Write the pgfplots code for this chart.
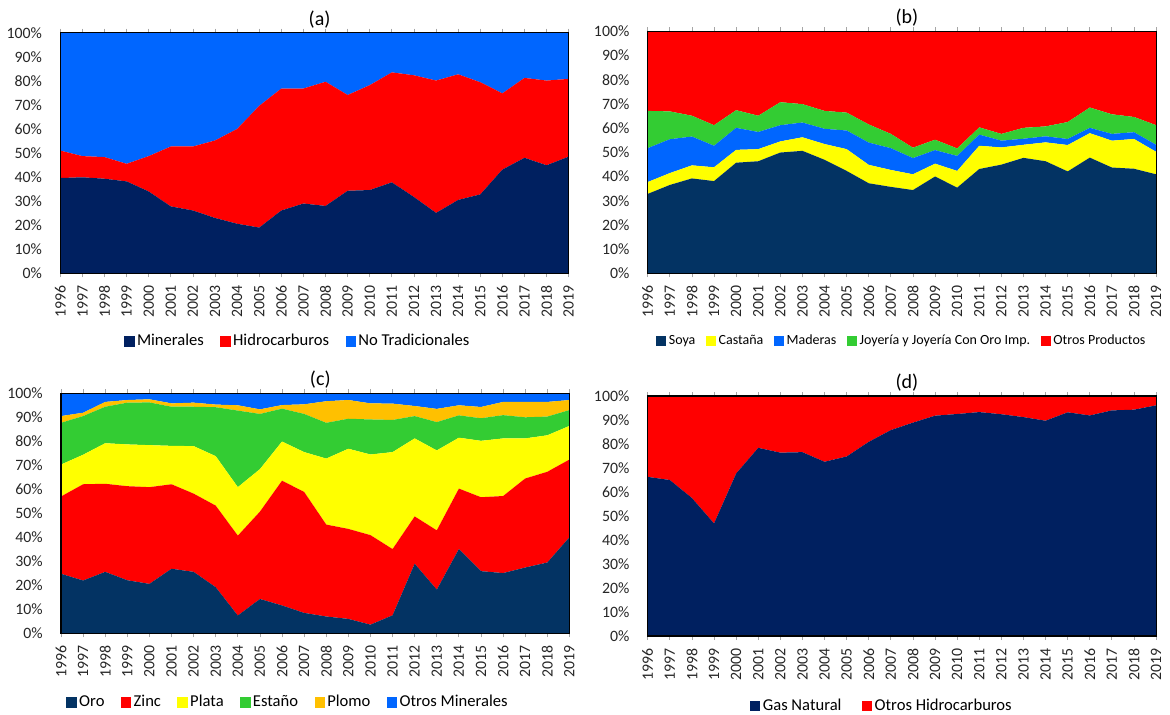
\documentclass[border=0pt]{standalone}
\usepackage{pgfplots}
\pgfplotsset{compat=1.18}
\usepackage{pgfplotstable}
\usepackage{fontspec}
\setmainfont{Carlito}

\definecolor{navyA}{HTML}{002060}
\definecolor{navyB}{HTML}{033363}
\definecolor{cRed}{HTML}{FF0000}
\definecolor{cBlue}{HTML}{0066FF}
\definecolor{cYel}{HTML}{FFFF00}
\definecolor{cGreen}{HTML}{33CC33}
\definecolor{cOrange}{HTML}{FFC000}

\pgfplotstableread{
year min hid not
1996 39.6 11.4 49.0
1997 39.9 8.8 51.3
1998 39.3 9.0 51.7
1999 38.2 7.3 54.5
2000 34.0 14.7 51.3
2001 27.8 24.9 47.3
2002 26.1 26.6 47.3
2003 23.0 32.2 44.8
2004 20.6 39.4 40.0
2005 19.0 50.6 30.4
2006 26.1 50.7 23.2
2007 29.0 47.8 23.2
2008 28.0 51.6 20.4
2009 34.3 39.8 25.9
2010 34.6 43.6 21.8
2011 37.8 45.7 16.5
2012 31.7 50.6 17.7
2013 25.1 55.0 19.9
2014 30.5 52.2 17.3
2015 32.8 46.6 20.6
2016 43.1 31.7 25.2
2017 48.0 33.2 18.8
2018 44.9 35.2 19.9
2019 48.5 32.3 19.2
}\tabA

\pgfplotstableread{
year soya cast mad joy otr
1996 32.8 4.9 14.0 15.4 32.9
1997 36.5 4.9 14.0 11.5 33.1
1998 39.2 5.4 11.9 8.6 34.9
1999 38.1 5.7 8.9 8.5 38.8
2000 45.7 5.3 9.1 7.3 32.6
2001 46.3 5.0 7.1 6.7 34.9
2002 49.9 4.6 6.7 9.5 29.3
2003 50.6 5.6 6.1 7.6 30.1
2004 46.9 6.5 6.3 7.4 32.9
2005 42.3 9.0 7.7 7.4 33.6
2006 37.2 7.6 9.2 7.5 38.5
2007 35.7 7.0 9.0 5.9 42.4
2008 34.4 6.5 6.7 4.3 48.1
2009 40.0 5.3 5.6 4.3 44.8
2010 35.4 6.9 6.2 3.1 48.4
2011 43.1 9.6 4.6 3.0 39.7
2012 44.9 7.1 2.8 2.8 42.4
2013 47.7 5.4 2.5 4.5 39.9
2014 46.3 7.8 2.5 4.1 39.3
2015 42.1 10.9 2.5 7.0 37.5
2016 47.8 10.1 2.2 8.4 31.5
2017 43.7 11.1 2.8 8.1 34.3
2018 43.2 12.3 2.8 6.3 35.4
2019 40.9 9.3 2.9 8.1 38.8
}\tabB

\pgfplotstableread{
year oro zinc plata est plomo otros
1996 24.8 32.2 13.3 17.4 2.8 9.5
1997 22.0 40.1 12.3 16.1 1.4 8.1
1998 25.6 36.7 16.9 15.2 2.0 3.6
1999 22.1 39.2 17.4 17.4 1.1 2.8
2000 20.6 40.3 17.5 17.8 1.3 2.5
2001 26.9 35.2 16.0 16.3 1.4 4.2
2002 25.6 32.6 19.8 16.4 1.7 3.9
2003 19.2 34.0 20.6 20.4 1.1 4.7
2004 7.4 33.3 20.2 31.9 2.2 5.0
2005 14.3 36.4 17.7 23.0 1.9 6.7
2006 11.6 52.0 16.3 13.7 1.5 4.9
2007 8.5 50.4 16.6 15.9 4.0 4.6
2008 7.0 38.3 27.5 14.9 9.0 3.3
2009 6.0 37.5 33.4 12.5 7.8 2.8
2010 3.6 37.3 33.6 14.6 6.7 4.2
2011 7.5 27.6 40.4 13.4 6.8 4.3
2012 29.0 19.7 32.5 9.3 4.2 5.3
2013 18.2 24.7 33.3 11.8 5.5 6.5
2014 35.1 25.2 21.2 9.3 4.2 5.0
2015 25.9 30.8 23.5 9.4 4.7 5.7
2016 25.1 32.1 24.0 9.7 5.5 3.6
2017 27.4 37.1 16.7 8.8 6.4 3.6
2018 29.5 37.8 15.2 7.8 6.1 3.6
2019 40.0 32.4 14.0 6.6 4.2 2.8
}\tabC

\pgfplotstableread{
year gas otros
1996 66.3 33.7
1997 65.0 35.0
1998 57.5 42.5
1999 46.9 53.1
2000 67.7 32.3
2001 78.4 21.6
2002 76.4 23.6
2003 76.6 23.4
2004 72.6 27.4
2005 74.8 25.2
2006 80.9 19.1
2007 85.8 14.2
2008 88.9 11.1
2009 91.8 8.2
2010 92.5 7.5
2011 93.3 6.7
2012 92.4 7.6
2013 91.2 8.8
2014 89.7 10.3
2015 93.2 6.8
2016 91.9 8.1
2017 94.0 6.0
2018 94.3 5.7
2019 96.1 3.9
}\tabD

\pgfplotsset{
  every axis title/.style={at={(0.51,1)}, anchor=center, yshift=6.8pt,
    font=\fontsize{10}{12}\selectfont},
  panel/.style={
    scale only axis,
    anchor=north west,
    width=254.2pt,
    xmin=1996, xmax=2019, ymin=0, ymax=100,
    enlargelimits=false,
    stack plots=y,
    area style,
    axis on top,
    axis line style={line width=0.6pt, black},
    xtick={1996,...,2019},
    ytick={0,10,...,100},
    /pgf/number format/assume math mode=true,
    /pgf/number format/1000 sep={},
    yticklabel={\pgfmathprintnumber{\tick}\%},
    tick label style={font=\fontsize{7.9}{9}\selectfont, text=black!85},
    yticklabel style={inner sep=0pt, xshift=-7.0pt},
    xticklabel style={rotate=90, anchor=east, inner sep=0pt},
    xticklabel shift=4pt,
    ytick style={draw=none},
    xtick style={draw=gray!70, line width=0.4pt},
    tick align=outside,
    major tick length=2pt,
    legend style={draw=none, fill=none, font=\fontsize{8.3}{10}\selectfont, anchor=center,
      legend columns=-1, inner sep=0pt,
      /tikz/every even column/.append style={column sep=7pt},
      nodes={inner sep=1.2pt}},
    legend image code/.code={\fill[##1] (0pt,-2.6pt) rectangle (5.2pt,2.6pt);},
  },
  every axis plot/.append style={draw=none},
}

\begin{document}
\begin{tikzpicture}
\path[use as bounding box] (0,0) rectangle (585pt,-357.5pt);

% (a)
\begin{axis}[panel, at={(30.15pt,-16.35pt)}, height=120.3pt,
  title={(a)},
  legend style={at={(0.4675,-0.284)}}]
\addplot[fill=navyA] table[x=year,y=min]{\tabA} \closedcycle;
\addplot[fill=cRed] table[x=year,y=hid]{\tabA} \closedcycle;
\addplot[fill=cBlue] table[x=year,y=not]{\tabA} \closedcycle;
\legend{Minerales,Hidrocarburos,No Tradicionales}
\end{axis}

% (b)
\begin{axis}[panel, at={(323.85pt,-15.65pt)}, height=121pt,
  title={(b)},
  legend style={at={(0.5,-0.28)}, font=\fontsize{7.0}{9}\selectfont,
    /tikz/every even column/.append style={column sep=4pt}}]
\addplot[fill=navyB] table[x=year,y=soya]{\tabB} \closedcycle;
\addplot[fill=cYel] table[x=year,y=cast]{\tabB} \closedcycle;
\addplot[fill=cBlue] table[x=year,y=mad]{\tabB} \closedcycle;
\addplot[fill=cGreen] table[x=year,y=joy]{\tabB} \closedcycle;
\addplot[fill=cRed] table[x=year,y=otr]{\tabB} \closedcycle;
\legend{Soya,Castaña,Maderas,Joyería y Joyería Con Oro Imp.,Otros Productos}
\end{axis}

% (c)
\begin{axis}[panel, at={(30.5pt,-196.65pt)}, height=120pt,
  title={(c)},
  legend style={at={(0.447,-0.289)}}]
\addplot[fill=navyB] table[x=year,y=oro]{\tabC} \closedcycle;
\addplot[fill=cRed] table[x=year,y=zinc]{\tabC} \closedcycle;
\addplot[fill=cYel] table[x=year,y=plata]{\tabC} \closedcycle;
\addplot[fill=cGreen] table[x=year,y=est]{\tabC} \closedcycle;
\addplot[fill=cOrange] table[x=year,y=plomo]{\tabC} \closedcycle;
\addplot[fill=cBlue] table[x=year,y=otros]{\tabC} \closedcycle;
\legend{Oro,Zinc,Plata,Estaño,Plomo,Otros Minerales}
\end{axis}

% (d)
\begin{axis}[panel, at={(323.85pt,-198pt)}, height=120pt,
  title={(d)},
  legend style={at={(0.461,-0.292)},
    /tikz/every even column/.append style={column sep=9pt}}]
\addplot[fill=navyA] table[x=year,y=gas]{\tabD} \closedcycle;
\addplot[fill=cRed] table[x=year,y=otros]{\tabD} \closedcycle;
\legend{Gas Natural,Otros Hidrocarburos}
\end{axis}
\end{tikzpicture}
\end{document}
